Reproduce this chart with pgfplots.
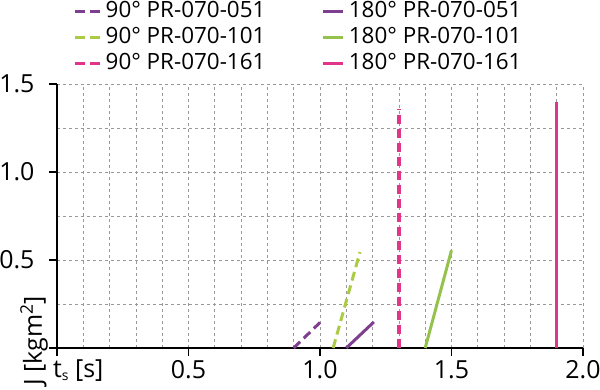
\documentclass[border=0pt]{standalone}
\usepackage{graphicx}
\usepackage{pgfplots}
\pgfplotsset{compat=1.18}
\usepackage{fontspec}
\setmainfont{Open Sans}
\definecolor{cpurple}{HTML}{7D3F8E}
\definecolor{cgreenA}{HTML}{ABCB45}
\definecolor{cgreenB}{HTML}{95C24C}
\definecolor{cpink}{HTML}{E0358B}
\pgfplotsset{
  dashedleg/.style={legend image code/.code={\draw[##1, line width=3.5bp, dash pattern=on 10bp off 5bp] (0bp,0bp) -- (25bp,0bp);}},
  solidleg/.style={legend image code/.code={\draw[##1, line width=3.5bp] (0bp,0bp) -- (20bp,0bp);}},
}
\begin{document}
\begin{tikzpicture}[x=1bp,y=1bp]
\begin{axis}[
  scale only axis,
  width=526bp, height=264bp,
  xmin=0, xmax=2, ymin=0, ymax=1.5,
  axis x line=bottom, axis y line=left,
  axis line style={line width=1.8bp, black, -},
  xtick={0,0.5,1,1.5,2},
  xticklabels={,0.5,1.0,1.5,2.0},
  ytick={0,0.5,1,1.5},
  yticklabels={,0.5,1.0,1.5},
  minor xtick={0.1,0.2,0.3,0.4,0.6,0.7,0.8,0.9,1.1,1.2,1.3,1.4,1.6,1.7,1.8,1.9},
  minor ytick={0.25,0.75,1.25},
  grid=both,
  major grid style={gray!80, line width=0.8bp, dash pattern=on 3bp off 3bp},
  minor grid style={gray!80, line width=0.8bp, dash pattern=on 3bp off 3bp},
  tick style={black, line width=1.8bp},
  major tick length=8bp,
  tick align=outside,
  minor tick length=0pt,
  xtick pos=bottom, ytick pos=left,
  /pgf/number format/assume math mode=true,
  tick label style={font=\fontsize{25}{29}\selectfont},
  xticklabel style={yshift=-1bp},
  yticklabel style={xshift=-11bp},
  legend columns=2,
  legend cell align=left,
  legend style={at={(axis description cs:0.0304,1.316)}, anchor=north west, draw=none, fill=none,
    font=\fontsize{22.5}{26}\selectfont, row sep=4.5bp, inner sep=0pt,
    nodes={inner sep=0pt, text height=16.5bp, text depth=5bp},
    /tikz/every odd column/.append style={column sep=4bp},
    /tikz/every even column/.append style={column sep=56bp}},
  clip=false,
]
\coordinate (ll) at (axis description cs:0,0);
\coordinate (ur) at (axis description cs:1,1);
\addplot[cpurple, line width=3bp, dash pattern=on 9bp off 5bp, dashedleg] coordinates {(0.9,0) (1.0,0.145)};
\addlegendentry{90° PR-070-051}
\addplot[cpurple, line width=3bp, solidleg] coordinates {(1.1,0) (1.205,0.148)};
\addlegendentry{180° PR-070-051}
\addplot[cgreenA, line width=3bp, dash pattern=on 9bp off 5bp, dashedleg] coordinates {(1.05,0) (1.152,0.545)};
\addlegendentry{90° PR-070-101}
\addplot[cgreenB, line width=3bp, solidleg] coordinates {(1.4,0) (1.5,0.555)};
\addlegendentry{180° PR-070-101}
\addplot[cpink, line width=3.2bp, dash pattern=on 9bp off 5bp, dashedleg] coordinates {(1.3,0) (1.3,1.36)};
\addlegendentry{90° PR-070-161}
\addplot[cpink, line width=3bp, solidleg] coordinates {(1.9,0) (1.9,1.40)};
\addlegendentry{180° PR-070-161}
\end{axis}
\coordinate (yl) at ([xshift=-37bp,yshift=-38bp]ll);
\node[anchor=north west, font=\fontsize{25}{29}\selectfont, inner sep=0pt] at ([xshift=-4bp,yshift=-12bp]ll) {t\raisebox{-0.1em}{\fontsize{14}{16}\selectfont s} [s]};
\node[anchor=south west, font=\fontsize{25}{29}\selectfont, inner sep=0pt] at (yl) {\rotatebox{90}{J [kgm\textsuperscript{2}]}};
\pgfresetboundingbox
\path[use as bounding box] ([xshift=-57bp,yshift=-42bp]ll) rectangle ([xshift=17bp,yshift=84bp]ur);
\end{tikzpicture}
\end{document}
